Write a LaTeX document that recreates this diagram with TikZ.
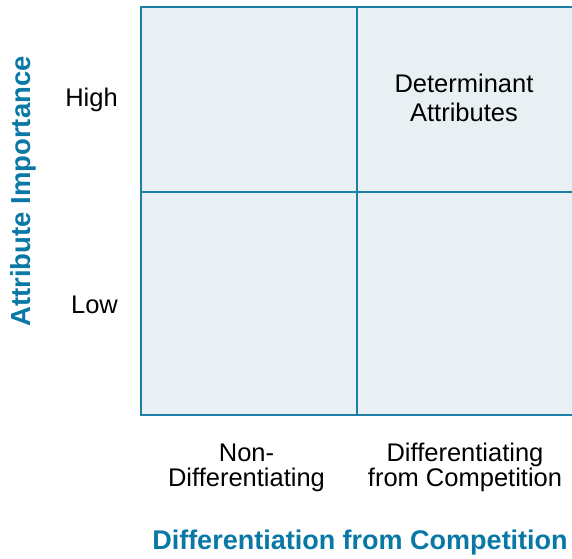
\documentclass[tikz,border=0pt]{standalone}
\usepackage{fontspec}
\setmainfont{Liberation Sans}
\definecolor{gridline}{HTML}{1B7FA6}
\definecolor{cellfill}{HTML}{E8F0F4}
\definecolor{axisblue}{HTML}{0A78A5}
\begin{document}
\begin{tikzpicture}[x=1pt,y=1pt,
  lbl/.style={font=\fontsize{25.5}{29}\selectfont, text=black, inner sep=0pt, align=center},
  lblb/.style={font=\fontsize{25.5}{24.5}\selectfont, text=black, inner sep=0pt, align=center},
  axislbl/.style={font=\fontsize{27}{30}\selectfont\bfseries, text=axisblue, inner sep=0pt},
  gridpen/.style={draw=gridline, line width=2pt}]
\useasboundingbox (0,0) rectangle (572,558);
\begin{scope}
\clip (0,0) rectangle (572,558);
\draw[gridpen, fill=cellfill] (141,551) rectangle (580,143.5);
\draw[gridpen] (357,551) -- (357,143.5);
\draw[gridpen] (141,366) -- (580,366);
\end{scope}
\node[lbl, anchor=base] (high) at (91.5,451) {High};
\node[lbl, anchor=base] (low) at (94.5,245) {Low};
\node[lbl, anchor=base] (det) at (464,436) {Determinant\\Attributes};
\node[lblb, anchor=base] (nondiff) at (246.5,72) {Non-\\Differentiating};
\node[lblb, anchor=base] (diffcomp) at (465,72) {Differentiating\\from Competition};
\node[axislbl, anchor=base] (xaxis) at (360,9) {Differentiation from Competition};
\node[axislbl, anchor=base, rotate=90, font=\fontsize{27.5}{30}\selectfont\bfseries] (yaxis) at (31,366.5) {Attribute Importance};
\end{tikzpicture}
\end{document}
